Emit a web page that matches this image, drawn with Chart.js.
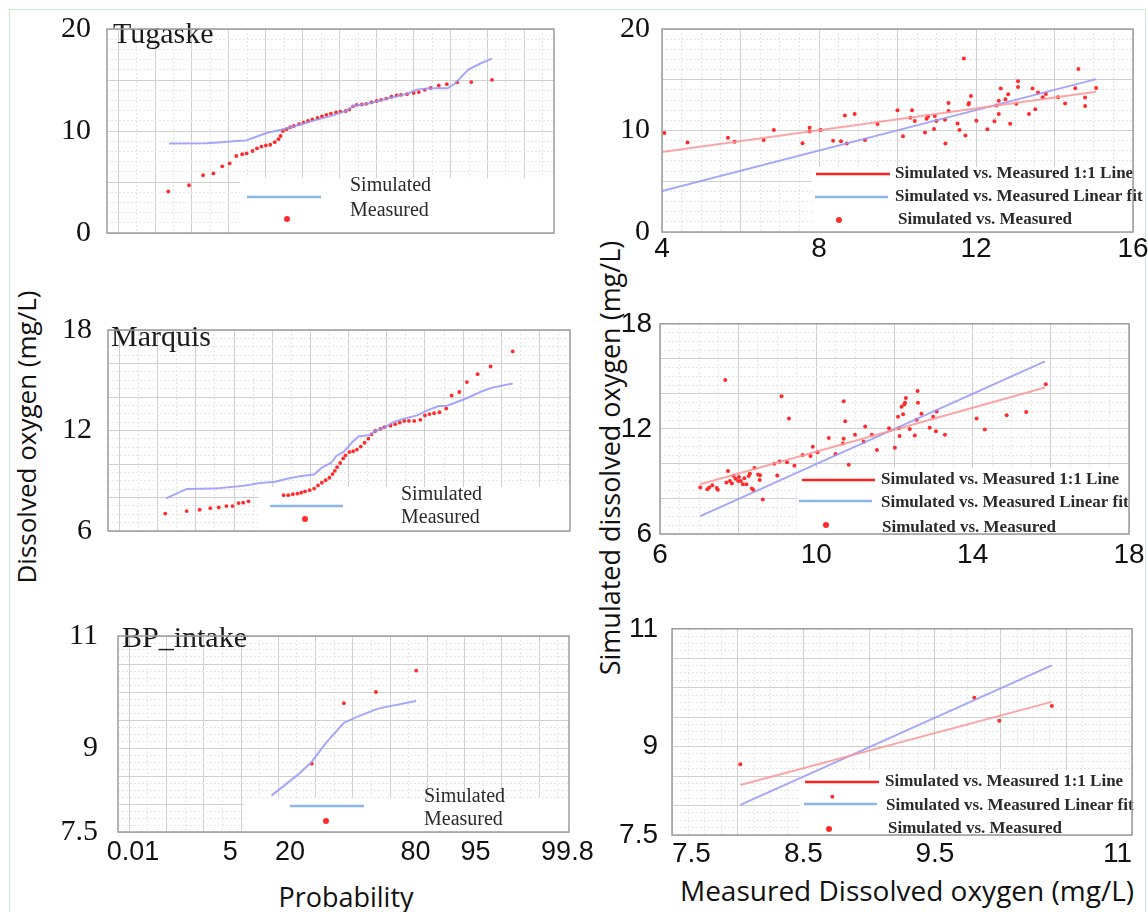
<!DOCTYPE html>
<html>
<head>
<meta charset="utf-8">
<script src="https://cdn.jsdelivr.net/npm/chart.js@4.4.0/dist/chart.umd.min.js"></script>
<style>
  body { margin: 0; background: #fff; }
  #page { position: relative; width: 1148px; height: 912px; overflow: hidden; }
  canvas { position: absolute; }
  .frame { position: absolute; left: 9px; top: 9px; width: 1135px; height: 920px; border: 1px solid #c4efca; }
  .ttl { position: absolute; font-family: 'Open Sans', sans-serif; font-size: 27px; color: #111; white-space: nowrap; transform: translate(-50%, -50%); }
  .rot { transform: translate(-50%, -50%) rotate(-90deg); }
</style>
</head>
<body>
<div id="page">
  <div class="frame"></div>
  <div class="ttl rot" style="left:26px; top:437px; font-size:26px;">Dissolved oxygen (mg/L)</div>
  <div class="ttl rot" style="left:609px; top:458px;">Simulated dissolved oxygen (mg/L)</div>
  <div class="ttl" style="left:346px; top:896px;">Probability</div>
  <div class="ttl" style="left:907px; top:890px; font-size:28px;">Measured Dissolved oxygen (mg/L)</div>
</div>
<script>
// series names
const seriesNames = ['Simulated', 'Measured'];
const scatterNames = ['Simulated vs. Measured 1:1 Line', 'Simulated vs. Measured Linear fit', 'Simulated vs. Measured'];

// probability axis tick labels (%)
const probTicks = [0.01, 5, 20, 80, 95, 99.8];

// Tugaske - probability plot (x = normal score, y = DO mg/L)
const tugMeasZ = [-2.32,-2.04,-1.85,-1.71,-1.59,-1.49,-1.40,-1.32,-1.26,-1.18,-1.12,-1.06,-1.00,-0.94,-0.88,-0.83,-0.80,-0.77,-0.72,-0.67,-0.62,-0.55,-0.49,-0.43,-0.37,-0.30,-0.24,-0.18,-0.12,-0.05,0.01,0.08,0.13,0.18,0.23,0.30,0.36,0.43,0.50,0.56,0.63,0.70,0.77,0.83,0.91,1.00,1.07,1.15,1.23,1.34,1.45,1.59,1.78,2.06];
const tugMeasDO = [4.07,4.68,5.66,5.84,6.54,6.82,7.55,7.72,7.80,8.04,8.29,8.47,8.59,8.65,8.90,9.20,9.51,10.0,10.18,10.37,10.49,10.67,10.83,10.98,11.13,11.28,11.44,11.59,11.71,11.83,11.90,11.96,12.11,12.42,12.57,12.60,12.66,12.81,12.94,13.06,13.18,13.36,13.49,13.55,13.61,13.73,13.82,14.04,14.22,14.46,14.59,14.77,14.80,15.02];
const tugSimZ = [-2.31,-1.80,-1.60,-1.40,-1.26,-1.15,-0.98,-0.79,-0.59,-0.34,-0.09,0.11,0.18,0.41,0.66,0.91,1.04,1.21,1.46,1.56,1.74,1.91,2.06];
const tugSimDO = [8.78,8.81,8.90,9.02,9.08,9.39,9.82,10.12,10.52,11.04,11.53,12.05,12.45,12.72,13.21,13.64,14.04,14.19,14.19,14.65,16.02,16.64,17.09];

// Marquis - probability plot
const marMeasZ = [-2.40,-2.12,-1.95,-1.81,-1.70,-1.60,-1.52,-1.44,-1.38,-1.31,-0.85,-0.79,-0.73,-0.67,-0.62,-0.57,-0.51,-0.45,-0.40,-0.35,-0.30,-0.25,-0.21,-0.18,-0.15,-0.11,-0.07,-0.04,0.01,0.06,0.11,0.16,0.21,0.26,0.30,0.35,0.42,0.47,0.55,0.61,0.67,0.73,0.79,0.86,0.94,1.00,1.06,1.12,1.19,1.28,1.35,1.45,1.55,1.69,1.86,2.15];
const marMeasDO = [7.04,7.19,7.27,7.36,7.41,7.49,7.49,7.67,7.69,7.77,8.14,8.14,8.20,8.23,8.29,8.36,8.44,8.53,8.72,8.88,9.03,9.18,9.40,9.59,9.81,10.06,10.33,10.52,10.71,10.76,10.86,11.04,11.27,11.51,11.77,11.97,12.10,12.20,12.29,12.38,12.47,12.57,12.57,12.57,12.64,12.90,12.98,13.03,13.09,13.31,14.09,14.30,14.89,15.36,15.82,16.72];
const marSimZ = [-2.39,-2.12,-1.76,-1.37,-1.18,-0.96,-0.79,-0.64,-0.45,-0.35,-0.23,-0.16,-0.06,0.04,0.13,0.28,0.35,0.47,0.57,0.72,0.90,1.04,1.18,1.28,1.54,1.74,1.88,2.15];
const marSimDO = [7.95,8.51,8.53,8.70,8.85,8.94,9.13,9.27,9.37,9.78,10.06,10.48,10.74,11.27,11.64,11.73,11.97,12.16,12.47,12.70,12.90,13.22,13.46,13.46,13.91,14.33,14.56,14.80];

// BP_intake - probability plot
const bpMeasZ = [-0.55,-0.12,0.31,0.85];
const bpMeasDO = [8.72,9.80,10.00,10.38];
const bpSimZ = [-1.09,-0.74,-0.56,-0.36,-0.12,0.08,0.31,0.43,0.85];
const bpSimDO = [8.15,8.52,8.74,9.09,9.45,9.57,9.69,9.73,9.84];

// Tugaske - simulated vs measured
const tugObs = [4.06,4.65,5.68,5.85,6.59,6.85,7.58,7.76,7.76,8.04,8.36,8.56,8.66,8.71,8.91,9.17,9.49,10.0,10.14,10.33,10.37,10.44,10.70,10.74,10.78,10.93,10.95,10.99,11.21,11.22,11.30,11.30,11.53,11.58,11.69,11.73,11.81,11.82,11.87,12.01,12.29,12.47,12.52,12.58,12.58,12.63,12.75,12.82,12.87,13.03,13.07,13.07,13.35,13.44,13.51,13.58,13.70,13.78,14.09,14.27,14.53,14.61,14.78,14.78,15.06];
const tugSim = [9.75,8.81,9.28,8.88,9.06,10.06,8.75,10.28,9.91,10.06,9.00,8.94,11.47,8.72,11.63,9.06,10.63,12.0,9.44,11.25,12.0,10.94,9.81,11.16,11.38,10.16,11.44,10.94,11.06,8.72,12.72,11.91,10.69,10.06,17.09,9.5,12.56,12.72,13.41,10.97,10.13,10.91,12.47,11.63,12.94,14.13,13.09,13.56,10.66,12.63,14.84,14.28,11.63,14.13,12.09,13.75,13.28,13.59,13.28,12.66,14.16,16.06,13.25,12.41,14.19];
const tugLineX = [4, 15.06];
const tugRedY = [7.88, 13.81];
const tugBlueY = [4.03, 15.06];

// Marquis - simulated vs measured
const marObs = [7.03,7.21,7.26,7.34,7.45,7.48,7.67,7.70,7.74,7.79,7.84,7.88,7.93,8.00,8.02,8.07,8.12,8.16,8.21,8.27,8.30,8.35,8.39,8.42,8.51,8.55,8.56,8.63,8.92,9.00,9.06,9.11,9.25,9.30,9.44,9.65,9.85,9.91,10.03,10.32,10.49,10.68,10.70,10.70,10.74,10.83,10.99,11.25,11.21,11.42,11.55,11.86,12.01,12.09,12.11,12.13,12.18,12.22,12.25,12.27,12.29,12.39,12.52,12.57,12.59,12.60,12.69,12.90,12.99,13.08,13.06,13.29,14.10,14.31,14.87,15.37,15.87];
const marSim = [8.66,8.56,8.66,8.79,8.62,8.53,14.79,8.94,9.59,9.03,8.88,9.33,9.16,9.03,9.25,9.03,8.84,9.18,8.84,9.31,9.44,8.60,8.51,9.77,9.40,9.08,9.36,7.97,10.01,9.34,10.14,13.86,10.09,12.59,9.90,10.51,10.46,10.98,10.66,11.48,10.57,11.16,11.44,13.58,12.43,9.96,11.67,12.13,11.26,11.67,10.79,12.04,10.92,12.69,12.04,11.59,13.26,12.84,13.39,13.49,13.77,12.00,11.63,12.52,14.17,13.49,12.87,12.06,12.69,12.99,11.87,11.67,12.59,11.96,12.78,12.97,14.55];
const marLineX = [7.03, 15.85];
const marRedY = [8.84, 14.36];
const marBlueY = [7.02, 15.85];

// BP_intake - simulated vs measured
const bpObs = [8.02,8.72,9.80,9.99,10.39];
const bpSim = [8.70,8.15,9.83,9.44,9.69];
const bpLineX = [8.02, 10.39];
const bpRedY = [8.35, 9.76];
const bpBlueY = [8.01, 10.38];

const zMin = -3.15, zMax = 2.9;
const RED = '#ff2b2b', SIM_BLUE = 'rgba(150,150,250,0.85)', FIT_RED = 'rgba(250,150,150,0.85)';
const serif = 'Liberation Serif', sans = 'Liberation Sans';

const pts = (xs, ys) => xs.map((x, i) => ({ x: x, y: ys[i] }));

// inverse normal cdf (Acklam)
function normInv(p) {
  const a = [-39.69683028665376, 220.9460984245205, -275.9285104469687, 138.3577518672690, -30.66479806614716, 2.506628277459239];
  const b = [-54.47609879822406, 161.5858368580409, -155.6989798598866, 66.80131188771972, -13.28068155288572];
  const c = [-0.007784894002430293, -0.3223964580411365, -2.400758277161838, -2.549732539343734, 4.374664141464968, 2.938163982698783];
  const d = [0.007784695709041462, 0.3224671290700398, 2.445134137142996, 3.754408661907416];
  let q, r;
  if (p < 0.02425) {
    q = Math.sqrt(-2 * Math.log(p));
    return (((((c[0]*q+c[1])*q+c[2])*q+c[3])*q+c[4])*q+c[5]) / ((((d[0]*q+d[1])*q+d[2])*q+d[3])*q+1);
  }
  if (p > 1 - 0.02425) {
    q = Math.sqrt(-2 * Math.log(1 - p));
    return -(((((c[0]*q+c[1])*q+c[2])*q+c[3])*q+c[4])*q+c[5]) / ((((d[0]*q+d[1])*q+d[2])*q+d[3])*q+1);
  }
  q = p - 0.5; r = q * q;
  return (((((a[0]*r+a[1])*r+a[2])*r+a[3])*r+a[4])*r+a[5])*q / (((((b[0]*r+b[1])*r+b[2])*r+b[3])*r+b[4])*r+1);
}

function gridTicks(min, max, minor, major, labels) {
  const out = [];
  const start = Math.ceil(min / minor - 1e-9);
  const end = Math.floor(max / minor + 1e-9);
  for (let k = start; k <= end; k++) {
    const v = +(k * minor).toFixed(6);
    const isMajor = Math.abs(v / major - Math.round(v / major)) < 1e-6;
    const lab = labels.find(l => Math.abs(l - v) < 1e-6);
    out.push({ value: v, kind: isMajor ? 'major' : 'minor', lbl: lab === undefined ? '' : String(lab) });
  }
  return out;
}

const gridStyle = () => ({
  drawTicks: false, lineWidth: 1,
  color: c => !c.tick ? '#ddd' : c.tick.kind === 'major' ? '#d0d0d0' : c.tick.kind === 'minor' ? '#e6e6e6' : 'rgba(0,0,0,0)'
});
const borderStyle = () => ({ display: false, dash: c => (c.tick && c.tick.kind === 'minor') ? [2, 2] : [] });

function linAxis(min, max, minor, major, labels, font, pad, extra) {
  return {
    type: 'linear', min: min, max: max,
    afterBuildTicks: s => { s.ticks = gridTicks(min, max, minor, major, labels); },
    ticks: Object.assign({ autoSkip: false, maxRotation: 0, padding: pad, color: '#111', font: font,
      callback: (v, i, t) => t[i].lbl }, extra || {}),
    grid: gridStyle(), border: borderStyle()
  };
}

function zAxis(showLabels) {
  return {
    type: 'linear', min: zMin, max: zMax,
    afterBuildTicks: s => {
      const t = gridTicks(zMin, zMax, 0.25, 0.5, []);
      if (showLabels) {
        probTicks.forEach(p => t.push({ value: Math.max(normInv(p / 100), zMin + 0.2), kind: 'label', lbl: String(p) }));
      }
      t.sort((a, b) => a.value - b.value);
      s.ticks = t;
    },
    ticks: { display: showLabels, autoSkip: false, maxRotation: 0, padding: 4, color: '#111',
      font: { family: sans, size: 27 }, callback: (v, i, t) => t[i].lbl },
    grid: gridStyle(), border: borderStyle()
  };
}

function decor(ox, oy, d) {
  return {
    id: 'decor',
    beforeDatasetsDraw(chart) {
      const ctx = chart.ctx;
      if (d.box) {
        ctx.save();
        ctx.fillStyle = '#fff';
        ctx.fillRect(d.box[0] - ox, d.box[1] - oy, d.box[2] - d.box[0], d.box[3] - d.box[1]);
        ctx.restore();
      }
    },
    afterDatasetsDraw(chart) {
      const ctx = chart.ctx, a = chart.chartArea;
      ctx.save();
      (d.lines || []).forEach(l => {
        ctx.strokeStyle = l[0]; ctx.lineWidth = 2.5;
        ctx.beginPath(); ctx.moveTo(l[1] - ox, l[3] - oy); ctx.lineTo(l[2] - ox, l[3] - oy); ctx.stroke();
      });
      (d.dots || []).forEach(p => {
        ctx.fillStyle = p[0];
        ctx.beginPath(); ctx.arc(p[1] - ox, p[2] - oy, 3, 0, Math.PI * 2); ctx.fill();
      });
      ctx.fillStyle = '#2a2a2a'; ctx.font = d.font; ctx.textBaseline = 'middle'; ctx.textAlign = 'left';
      (d.texts || []).forEach(t => ctx.fillText(t[0], t[1] - ox, t[2] - oy));
      if (d.title) {
        ctx.fillStyle = '#1a1a1a'; ctx.font = '30px "' + serif + '"'; ctx.textBaseline = 'alphabetic';
        ctx.fillText(d.title[0], d.title[1] - ox, d.title[2] - oy);
      }
      ctx.strokeStyle = '#9c9c9c'; ctx.lineWidth = 1.5;
      ctx.strokeRect(a.left, a.top, a.right - a.left, a.bottom - a.top);
      ctx.restore();
    }
  };
}

function panel(plot, cfg) {
  const l = plot[0], t = plot[1], r = plot[2], b = plot[3];
  const left = l - 100, top = t - 20, w = r - l + 140, h = b - t + 80;
  const cv = document.createElement('canvas');
  cv.width = w; cv.height = h;
  cv.style.left = left + 'px'; cv.style.top = top + 'px';
  cv.style.width = w + 'px'; cv.style.height = h + 'px';
  document.getElementById('page').appendChild(cv);
  cfg.x.afterFit = s => { s.height = 60; };
  cfg.y.afterFit = s => { s.width = 100; };
  new Chart(cv, {
    type: 'scatter',
    data: { datasets: cfg.datasets },
    options: {
      responsive: false, animation: false,
      layout: { padding: { top: 20, right: 40, left: 0, bottom: 0 } },
      scales: { x: cfg.x, y: cfg.y },
      plugins: { legend: { display: false }, tooltip: { enabled: false } }
    },
    plugins: [decor(left, top, cfg.decor)]
  });
}

function probSets(simZ, simDO, measZ, measDO) {
  return [
    { label: seriesNames[0], data: pts(simZ, simDO), showLine: true, borderColor: SIM_BLUE, borderWidth: 2, pointRadius: 0 },
    { label: seriesNames[1], data: pts(measZ, measDO), backgroundColor: RED, borderWidth: 0, pointRadius: 1.9 }
  ];
}
function fitSets(lx, redY, blueY, obs, sim) {
  return [
    { label: scatterNames[0], data: pts(lx, redY), showLine: true, borderColor: FIT_RED, borderWidth: 2, pointRadius: 0 },
    { label: scatterNames[1], data: pts(lx, blueY), showLine: true, borderColor: SIM_BLUE, borderWidth: 2, pointRadius: 0 },
    { label: scatterNames[2], data: pts(obs, sim), backgroundColor: RED, borderWidth: 0, pointRadius: 2 }
  ];
}

const LBLUE = '#8cb6e8';
const smallLegend = '20px "' + serif + '"';
const bigLegend = 'bold 17px "' + serif + '"';

// Tugaske probability
panel([107, 15, 554, 233], {
  datasets: probSets(tugSimZ, tugSimDO, tugMeasZ, tugMeasDO),
  x: zAxis(false),
  y: linAxis(0, 20, 1, 5, [0, 10, 20], { family: serif, size: 30 }, 16),
  decor: { title: ['Tugaske', 113, 43], box: [240, 178, 554, 233], font: smallLegend,
    lines: [[LBLUE, 247, 321, 197]], dots: [[RED, 287, 219]],
    texts: [[seriesNames[0], 350, 186], [seriesNames[1], 350, 211]] }
});

// Marquis probability
panel([108, 316, 570, 531], {
  datasets: probSets(marSimZ, marSimDO, marMeasZ, marMeasDO),
  x: zAxis(false),
  y: linAxis(6, 18, 0.5, 2, [6, 12, 18], { family: serif, size: 30 }, 16),
  decor: { title: ['Marquis', 111, 346], box: [259, 487, 570, 531], font: smallLegend,
    lines: [[LBLUE, 270, 343, 506]], dots: [[RED, 305, 519]],
    texts: [[seriesNames[0], 401, 495], [seriesNames[1], 401, 518]] }
});

// BP_intake probability
panel([118, 618, 569, 832], {
  datasets: probSets(bpSimZ, bpSimDO, bpMeasZ, bpMeasDO),
  x: zAxis(true),
  y: linAxis(7.5, 11, 0.125, 0.5, [7.5, 9, 11], { family: serif, size: 30 }, 20),
  decor: { title: ['BP_intake', 122, 647], box: [244, 798, 569, 832], font: smallLegend,
    lines: [[LBLUE, 290, 364, 806]], dots: [[RED, 326, 821]],
    texts: [[seriesNames[0], 424, 797], [seriesNames[1], 424, 820]] }
});

// Tugaske scatter
panel([662, 19, 1133, 232], {
  datasets: fitSets(tugLineX, tugRedY, tugBlueY, tugObs, tugSim),
  x: linAxis(4, 16, 0.5, 2, [4, 8, 12, 16], { family: sans, size: 28 }, 0),
  y: linAxis(0, 20, 1, 5, [0, 10, 20], { family: serif, size: 30 }, 12),
  decor: { box: [812, 167, 1133, 232], font: bigLegend,
    lines: [['#ff2020', 816, 890, 174], [LBLUE, 815, 888, 197]], dots: [[RED, 839, 220]],
    texts: [[scatterNames[0], 895, 174], [scatterNames[1], 895, 197], [scatterNames[2], 898, 220]] }
});

// Marquis scatter
panel([660, 319, 1129, 534], {
  datasets: fitSets(marLineX, marRedY, marBlueY, marObs, marSim),
  x: linAxis(6, 18, 0.5, 2, [6, 10, 14, 18], { family: sans, size: 28 }, 4),
  y: linAxis(6, 18, 0.5, 2, [6, 12, 18], { family: sans, size: 28 }, 8),
  decor: { box: [797, 468, 1129, 534], font: bigLegend,
    lines: [['#ff2020', 802, 875, 480], [LBLUE, 799, 872, 501]], dots: [[RED, 826, 525]],
    texts: [[scatterNames[0], 881, 480], [scatterNames[1], 881, 503], [scatterNames[2], 882, 528]] }
});

// BP_intake scatter
panel([672, 618, 1132, 835], {
  datasets: fitSets(bpLineX, bpRedY, bpBlueY, bpObs, bpSim),
  x: linAxis(7.5, 11, 0.125, 0.5, [7.5, 8.5, 9.5, 11], { family: sans, size: 28 }, 2, { align: 'inner' }),
  y: linAxis(7.5, 11, 0.125, 0.5, [7.5, 9, 11], { family: sans, size: 28 }, 14),
  decor: { box: [800, 770, 1132, 835], font: bigLegend,
    lines: [['#ff2020', 805, 879, 782], [LBLUE, 804, 877, 804]], dots: [[RED, 829, 829]],
    texts: [[scatterNames[0], 885, 782], [scatterNames[1], 886, 806], [scatterNames[2], 888, 829]] }
});
</script>
</body>
</html>
